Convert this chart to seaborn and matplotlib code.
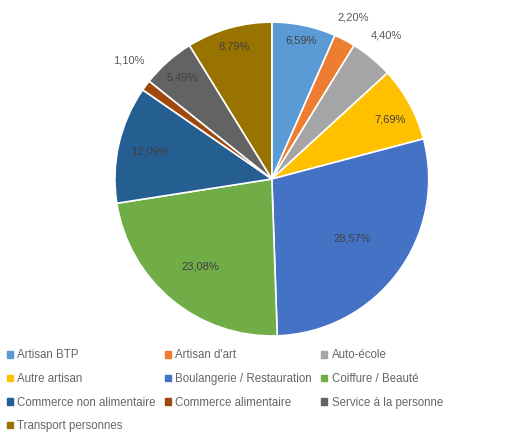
import numpy as np
import matplotlib
matplotlib.use("Agg")
import matplotlib.pyplot as plt
import seaborn as sns

categories = [
    "Artisan BTP", "Artisan d'art", "Auto-école", "Autre artisan",
    "Boulangerie / Restauration", "Coiffure / Beauté",
    "Commerce non alimentaire", "Commerce alimentaire",
    "Service à la personne", "Transport personnes",
]
shares = [6.59, 2.20, 4.40, 7.69, 28.57, 23.08, 12.09, 1.10, 5.49, 8.79]
label_texts = ["6,59%", "2,20%", "4,40%", "7,69%", "28,57%", "23,08%",
               "12,09%", "1,10%", "5,49%", "8,79%"]

colors = ["#5B9BD5", "#ED7D31", "#A5A5A5", "#FFC000", "#4472C4",
          "#70AD47", "#255E91", "#9E480E", "#636363", "#997300"]
# radial distance and angular nudge (deg) of each label
label_r = [0.90, 1.15, 1.17, 0.84, 0.64, 0.72, 0.80, 1.18, 0.86, 0.88]
label_dang = [0, 1, 1, -2, 0, 0, 0, -3, 0, 0]
label_col = ["#404040", "#595959", "#595959", "#404040", "#404040",
             "#404040", "#404040", "#595959", "#404040", "#404040"]

sns.set_theme(style="white")
plt.rcParams['font.family'] = ['Liberation Sans', 'DejaVu Sans']

fig = plt.figure(figsize=(5.10, 4.42), dpi=100)
ax = fig.add_axes([0.225, 0.24, 0.616, 0.71])

wedges, _ = ax.pie(
    shares, colors=colors, startangle=90, counterclock=False,
    wedgeprops=dict(edgecolor="white", linewidth=1.2),
)
ax.set_xlim(-1, 1)
ax.set_ylim(-1, 1)
ax.set_aspect("equal")

for w, txt, r, da, c in zip(wedges, label_texts, label_r, label_dang, label_col):
    ang = np.deg2rad((w.theta1 + w.theta2) / 2 + da)
    ax.text(r * np.cos(ang), r * np.sin(ang), txt, ha="center", va="center",
            fontsize=8, color=c)

# legend row-wise like Excel
order = [0, 3, 6, 9, 1, 4, 7, 2, 5, 8]
handles = [plt.Rectangle((0, 0), 1, 1, color=colors[i]) for i in order]
labels = [categories[i] for i in order]
leg = fig.legend(handles, labels, ncol=3, loc="upper left",
                 bbox_to_anchor=(0.0, 0.225), frameon=False,
                 fontsize=8.3, handlelength=0.5, handleheight=0.5,
                 handletextpad=0.4, columnspacing=0.8, labelspacing=1.0,
                 borderaxespad=0.2)
for t in leg.get_texts():
    t.set_color("#666666")

fig.savefig("out.png", dpi=100)
